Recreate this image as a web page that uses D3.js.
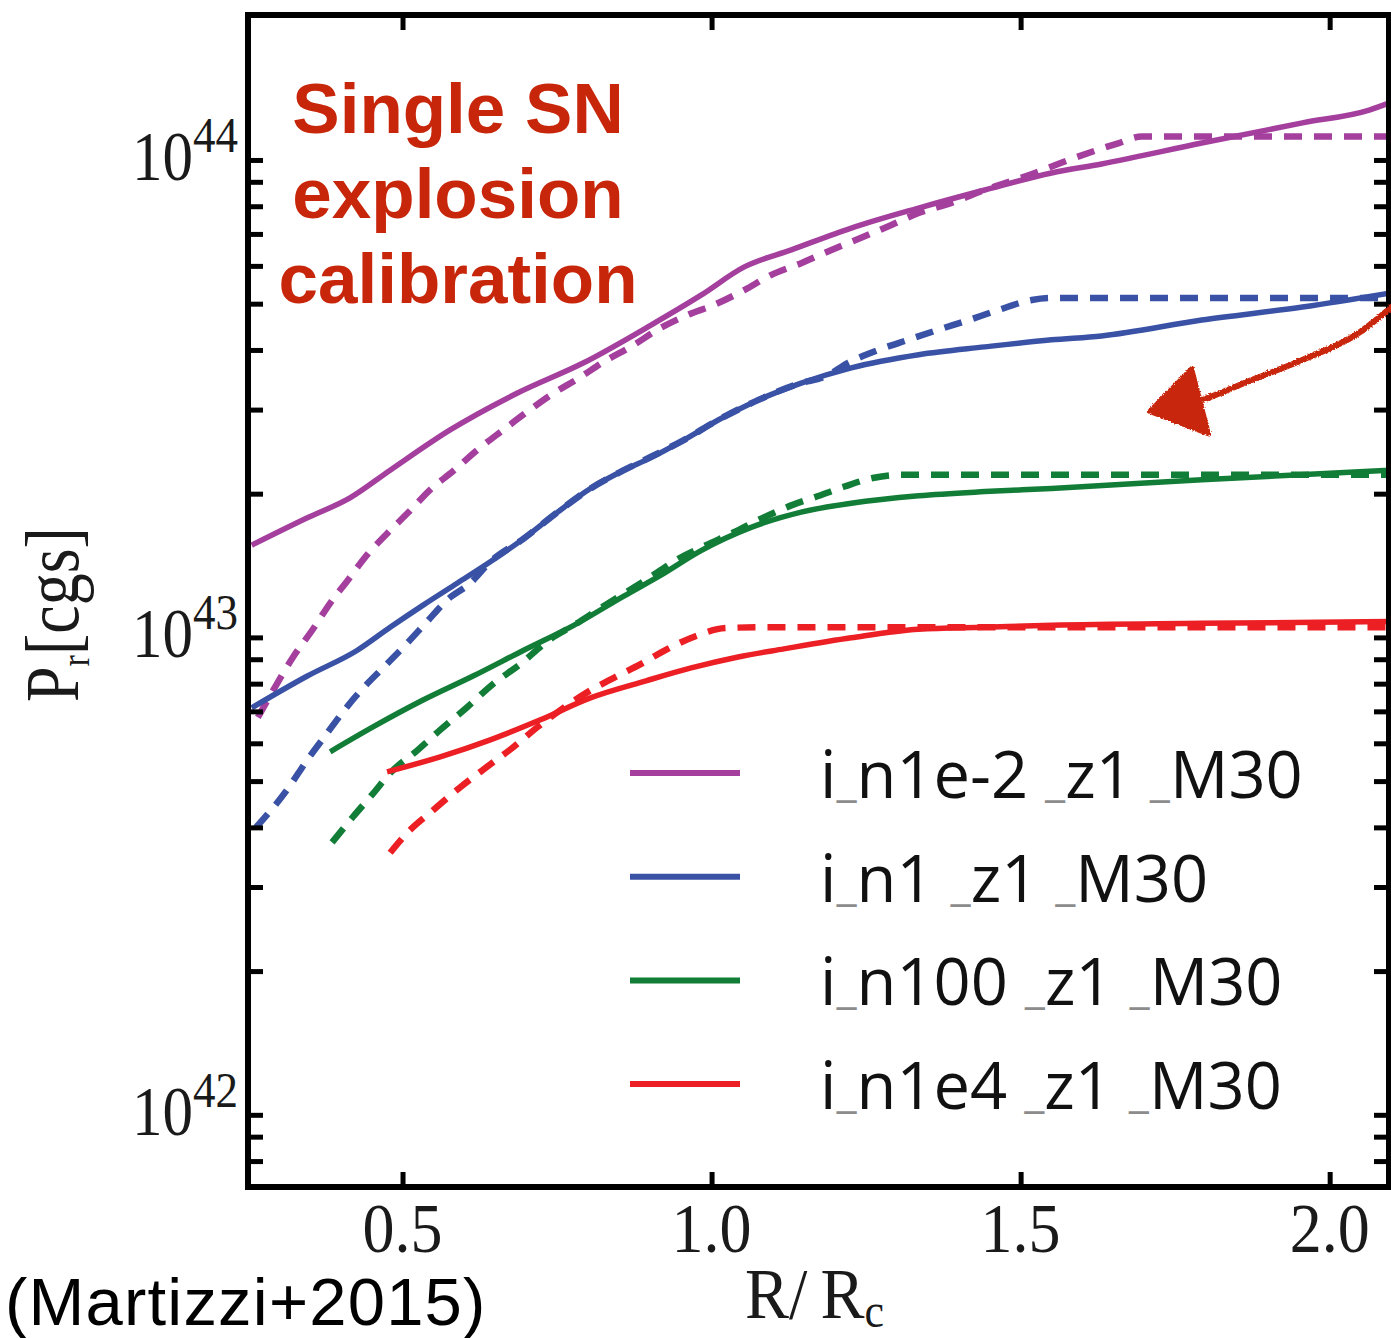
<!DOCTYPE html>
<html>
<head>
<meta charset="utf-8">
<script src="https://cdn.jsdelivr.net/npm/d3@7"></script>
<style>
  html, body { margin: 0; padding: 0; background: #fff; }
  svg { display: block; }
</style>
</head>
<body>
<svg id="chart" width="1391" height="1338"></svg>
<script>
// Radial momentum P_r (cgs) against R / R_c for a single SN explosion
// in four ambient densities. Solid: simulation, dashed: fit.
// Momentum values are stored in units of 1e43.
const P_UNIT = 1e43;

const seriesNames = ["i_n1e-2 _z1 _M30", "i_n1 _z1 _M30", "i_n100 _z1 _M30", "i_n1e4 _z1 _M30"];
const seriesColors = ["#a43f9e", "#3a52a5", "#127d37", "#ec1f24"];

// n = 1e-2
const n1em2SolidR = [0.256, 0.346, 0.415, 0.48, 0.577, 0.686, 0.793, 0.902, 0.983, 1.053, 1.129, 1.226, 1.335, 1.442, 1.55, 1.631, 1.793, 1.956, 2.064, 2.1];
const n1em2SolidP = [1.56, 1.78, 1.96, 2.24, 2.72, 3.25, 3.76, 4.51, 5.21, 5.97, 6.48, 7.20, 7.93, 8.65, 9.39, 9.81, 10.85, 11.96, 12.72, 13.22];
const n1em2DashR = [0.266, 0.291, 0.323, 0.355, 0.383, 0.41, 0.443, 0.477, 0.51, 0.545, 0.582, 0.621, 0.663, 0.702, 0.74, 0.788, 0.826, 0.869, 0.918, 0.962, 1.004, 1.053, 1.096, 1.145, 1.194, 1.242, 1.291, 1.335, 1.388, 1.442, 1.523, 1.578, 1.659, 1.696, 1.85, 2.1];
const n1em2DashP = [0.68, 0.776, 0.91, 1.04, 1.18, 1.31, 1.49, 1.66, 1.83, 2.04, 2.23, 2.47, 2.72, 2.97, 3.22, 3.51, 3.78, 4.06, 4.45, 4.74, 4.97, 5.34, 5.74, 6.08, 6.48, 6.87, 7.31, 7.74, 8.13, 8.65, 9.39, 10.0, 10.85, 11.2, 11.2, 11.2];

// n = 1
const n1SolidR = [0.256, 0.346, 0.427, 0.48, 0.534, 0.589, 0.642, 0.696, 0.751, 0.804, 0.858, 0.902, 0.955, 1.01, 1.075, 1.145, 1.226, 1.335, 1.442, 1.55, 1.631, 1.793, 1.956, 2.1];
const n1SolidP = [0.712, 0.83, 0.94, 1.05, 1.17, 1.30, 1.44, 1.61, 1.83, 2.05, 2.24, 2.38, 2.59, 2.85, 3.14, 3.41, 3.67, 3.91, 4.06, 4.20, 4.28, 4.62, 4.92, 5.27];
const n1DashR = [0.263, 0.313, 0.346, 0.378, 0.41, 0.443, 0.475, 0.508, 0.54, 0.573, 0.61, 0.642, 0.696, 0.751, 0.804, 0.858, 0.902, 0.955, 1.01, 1.075, 1.145, 1.182, 1.221, 1.27, 1.318, 1.367, 1.416, 1.464, 1.518, 1.55, 2.1];
const n1DashP = [0.40, 0.479, 0.554, 0.63, 0.715, 0.80, 0.88, 0.974, 1.08, 1.20, 1.30, 1.44, 1.61, 1.83, 2.05, 2.24, 2.39, 2.59, 2.85, 3.14, 3.41, 3.51, 3.76, 4.00, 4.20, 4.41, 4.62, 4.85, 5.09, 5.14, 5.14];

// n = 100
const n100SolidR = [0.383, 0.453, 0.534, 0.615, 0.696, 0.777, 0.858, 0.918, 0.983, 1.064, 1.145, 1.226, 1.335, 1.442, 1.55, 1.793, 2.1];
const n100SolidP = [0.576, 0.65, 0.74, 0.831, 0.94, 1.06, 1.22, 1.35, 1.52, 1.70, 1.83, 1.91, 1.98, 2.02, 2.05, 2.14, 2.24];
const n100DashR = [0.386, 0.42, 0.453, 0.48, 0.524, 0.561, 0.605, 0.647, 0.691, 0.735, 0.777, 0.821, 0.89, 0.95, 0.991, 1.036, 1.083, 1.129, 1.169, 1.215, 1.263, 1.307, 2.1];
const n100DashP = [0.372, 0.421, 0.472, 0.52, 0.58, 0.64, 0.715, 0.80, 0.88, 0.983, 1.06, 1.153, 1.31, 1.47, 1.56, 1.66, 1.78, 1.89, 1.97, 2.07, 2.16, 2.19, 2.19];

// n = 1e4
const n1e4SolidR = [0.475, 0.561, 0.642, 0.723, 0.804, 0.894, 0.967, 1.043, 1.117, 1.226, 1.335, 1.442, 1.55, 1.793, 2.1];
const n1e4SolidP = [0.523, 0.562, 0.61, 0.672, 0.747, 0.811, 0.863, 0.91, 0.946, 0.998, 1.04, 1.05, 1.06, 1.07, 1.08];
const n1e4DashR = [0.48, 0.508, 0.55, 0.594, 0.637, 0.68, 0.719, 0.756, 0.80, 0.842, 0.886, 0.929, 0.975, 1.023, 1.08, 2.1];
const n1e4DashP = [0.354, 0.39, 0.435, 0.486, 0.536, 0.59, 0.65, 0.705, 0.769, 0.823, 0.88, 0.946, 1.007, 1.046, 1.05, 1.05];

// Axis ticks
const xTickValues = [0.5, 1.0, 1.5, 2.0];
const xTickLabels = ["0.5", "1.0", "1.5", "2.0"];
const yMajorValues = [1e42, 1e43, 1e44];
const yMajorExponents = ["42", "43", "44"];

// Hand-drawn pointer (R, P in units of 1e43)
const arrowShaftR = [2.10, 2.037, 1.956, 1.874, 1.793, 1.745];
const arrowShaftP = [4.92, 4.26, 3.81, 3.46, 3.14, 3.03];
const arrowHeadR = [1.7075, 1.777, 1.805];
const arrowHeadP = [2.97, 3.67, 2.66];

const annotationLines = ["Single SN", "explosion", "calibration"];
const citation = "(Martizzi+2015)";

// ---------------------------------------------------------------
const svg = d3.select("#chart");
const plot = { left: 248, right: 1389, top: 15, bottom: 1187 };

const x = d3.scaleLinear().domain([0.25, 2.096]).range([plot.left, plot.right]);
const y = d3.scaleLog().domain([7.06e41, 2.012e44]).range([plot.bottom, plot.top]);

const defs = svg.append("defs");
defs.append("clipPath").attr("id", "plotClip")
  .append("rect")
  .attr("x", plot.left).attr("y", plot.top)
  .attr("width", plot.right - plot.left).attr("height", plot.bottom - plot.top);

const rough = defs.append("filter").attr("id", "rough")
  .attr("x", "-10%").attr("y", "-10%").attr("width", "120%").attr("height", "120%");
rough.append("feTurbulence").attr("type", "fractalNoise").attr("baseFrequency", 0.7)
  .attr("numOctaves", 2).attr("seed", 3).attr("result", "noise");
rough.append("feDisplacementMap").attr("in", "SourceGraphic").attr("in2", "noise")
  .attr("scale", 3.5).attr("xChannelSelector", "R").attr("yChannelSelector", "G");

const zip = (rs, ps) => rs.map((r, i) => ({ r, p: ps[i] * P_UNIT }));

const series = [
  { solid: zip(n1em2SolidR, n1em2SolidP), dash: zip(n1em2DashR, n1em2DashP) },
  { solid: zip(n1SolidR, n1SolidP), dash: zip(n1DashR, n1DashP) },
  { solid: zip(n100SolidR, n100SolidP), dash: zip(n100DashR, n100DashP) },
  { solid: zip(n1e4SolidR, n1e4SolidP), dash: zip(n1e4DashR, n1e4DashP) }
];

const line = d3.line()
  .x(d => x(d.r))
  .y(d => y(d.p))
  .curve(d3.curveMonotoneX);

// Curves
const curves = svg.append("g").attr("clip-path", "url(#plotClip)");
series.forEach((s, i) => {
  curves.append("path")
    .attr("d", line(s.solid))
    .attr("fill", "none")
    .attr("stroke", seriesColors[i])
    .attr("stroke-width", 5.5)
    .attr("stroke-linejoin", "round");
  curves.append("path")
    .attr("d", line(s.dash))
    .attr("fill", "none")
    .attr("stroke", seriesColors[i])
    .attr("stroke-width", 6.5)
    .attr("stroke-dasharray", "18,12");
});

// Ticks (inward on all four sides)
const yTickValues = y.ticks().filter(v => y(v) > plot.top + 6 && y(v) < plot.bottom - 6);
const styleAxis = g => {
  g.select(".domain").remove();
  g.selectAll(".tick line").attr("stroke", "#000").attr("stroke-width", 5);
  g.selectAll(".tick text").remove();
};
svg.append("g").attr("transform", `translate(0,${plot.bottom})`)
  .call(d3.axisBottom(x).tickValues(xTickValues).tickSize(-15).tickSizeOuter(0)).call(styleAxis);
svg.append("g").attr("transform", `translate(0,${plot.top})`)
  .call(d3.axisTop(x).tickValues(xTickValues).tickSize(-15).tickSizeOuter(0)).call(styleAxis);
svg.append("g").attr("transform", `translate(${plot.left},0)`)
  .call(d3.axisLeft(y).tickValues(yTickValues).tickSize(-15).tickSizeOuter(0)).call(styleAxis);
svg.append("g").attr("transform", `translate(${plot.right},0)`)
  .call(d3.axisRight(y).tickValues(yTickValues).tickSize(-15).tickSizeOuter(0)).call(styleAxis);

// Frame
svg.append("rect")
  .attr("x", plot.left).attr("y", plot.top)
  .attr("width", plot.right - plot.left).attr("height", plot.bottom - plot.top)
  .attr("fill", "none").attr("stroke", "#000").attr("stroke-width", 6);

const serif = "'Liberation Serif', 'DejaVu Serif', serif";

// x tick labels
xTickValues.forEach((v, i) => {
  svg.append("g")
    .attr("transform", `translate(${x(v)},1252) scale(1,1.1)`)
    .append("text")
    .attr("text-anchor", "middle")
    .attr("font-family", serif)
    .attr("font-size", 64)
    .attr("fill", "#1a1a1a")
    .text(xTickLabels[i]);
});

// y tick labels 10^n
yMajorValues.forEach((v, i) => {
  const t = svg.append("g")
    .attr("transform", `translate(238,${y(v)}) scale(1,1.13)`)
    .append("text")
    .attr("text-anchor", "end")
    .attr("y", 17.5)
    .attr("font-family", serif)
    .attr("fill", "#1a1a1a");
  t.append("tspan").attr("font-size", 61).text("10");
  t.append("tspan").attr("font-size", 45).attr("dy", -24.5).text(yMajorExponents[i]);
});

// Axis titles
const xTitle = svg.append("g")
  .attr("transform", "translate(745,1318) scale(1,1.1)")
  .append("text")
  .attr("font-family", serif)
  .attr("font-size", 66)
  .attr("fill", "#1a1a1a");
xTitle.append("tspan").text("R/\u2009R");
xTitle.append("tspan").attr("font-size", 44).attr("dy", 8).text("c");

const yTitle = svg.append("g")
  .attr("transform", "translate(78,702) rotate(-90) scale(1,1.18)")
  .append("text")
  .attr("font-family", serif)
  .attr("font-size", 64)
  .attr("fill", "#1a1a1a");
yTitle.append("tspan").text("P");
yTitle.append("tspan").attr("font-size", 34).attr("dy", 9).text("r");
yTitle.append("tspan").attr("dy", -9).text("[cgs]");

// Legend
const legend = svg.append("g");
const legendY0 = 773, legendStep = 103.7;
seriesNames.forEach((name, i) => {
  const ly = legendY0 + i * legendStep;
  legend.append("line")
    .attr("x1", 630).attr("x2", 740)
    .attr("y1", ly).attr("y2", ly)
    .attr("stroke", seriesColors[i])
    .attr("stroke-width", 6);
  const parts = name.split("_");
  const t = legend.append("text")
    .attr("x", 820).attr("y", ly + 25)
    .attr("font-family", "'Open Sans', 'Noto Sans', sans-serif")
    .attr("font-size", 65)
    .attr("fill", "#111");
  t.append("tspan").text(parts[0]);
  parts.slice(1).forEach(part => {
    t.append("tspan").attr("font-size", 46).attr("fill", "#8c8c8c").attr("dy", -2).text("_");
    t.append("tspan").attr("dy", 2).text(part);
  });
});

// Annotation text
const note = svg.append("text")
  .attr("text-anchor", "middle")
  .attr("font-family", "'Liberation Sans', Arial, sans-serif")
  .attr("font-weight", "bold")
  .attr("font-size", 71)
  .attr("fill", "#c8260a");
annotationLines.forEach((s, i) => {
  note.append("tspan").attr("x", 458).attr("y", 133 + i * 85).text(s);
});

// Hand-drawn arrow
const arrow = svg.append("g").attr("filter", "url(#rough)");
const shaft = arrowShaftR.map((r, i) => [x(r), y(arrowShaftP[i] * P_UNIT)]);
arrow.append("path")
  .attr("d", d3.line().curve(d3.curveCatmullRom)(shaft))
  .attr("fill", "none")
  .attr("stroke", "#c8260a")
  .attr("stroke-width", 6)
  .attr("stroke-linecap", "round");
const head = arrowHeadR.map((r, i) => [x(r), y(arrowHeadP[i] * P_UNIT)]);
arrow.append("path")
  .attr("d", d3.line()(head) + "Z")
  .attr("fill", "#c8260a")
  .attr("stroke", "#c8260a")
  .attr("stroke-width", 4)
  .attr("stroke-linejoin", "round");

// Citation
svg.append("text")
  .attr("x", 5).attr("y", 1325)
  .attr("font-family", "'Liberation Sans', Arial, sans-serif")
  .attr("font-size", 67)
  .attr("letter-spacing", 1.2)
  .attr("fill", "#000")
  .text(citation);
</script>
</body>
</html>
